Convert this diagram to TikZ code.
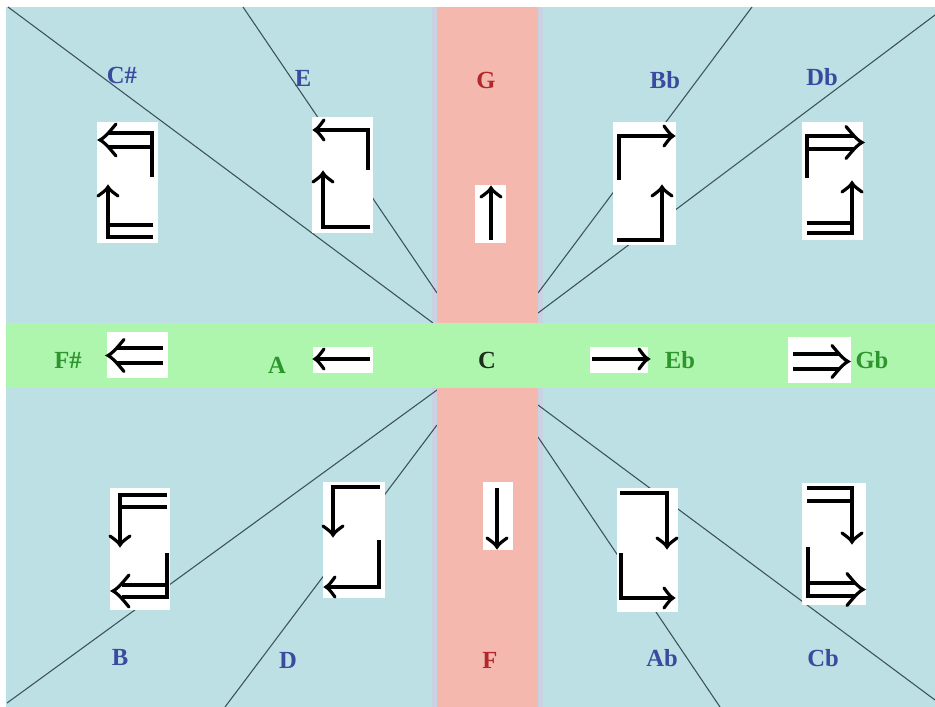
\documentclass[tikz,border=0pt]{standalone}
\usepackage{fontspec}
\setmainfont{Liberation Serif}
\usetikzlibrary{positioning}
\definecolor{bgblue}{HTML}{BCE0E3}
\definecolor{stripred}{HTML}{F4B8AF}
\definecolor{stripgreen}{HTML}{AEF5AE}
\definecolor{rimblue}{HTML}{C9D2E2}
\definecolor{keyblue}{HTML}{3A4A9E}
\definecolor{keygreen}{HTML}{2C962C}
\definecolor{keyred}{HTML}{B02828}
\definecolor{keydark}{HTML}{1E2E1E}
\definecolor{rayline}{HTML}{3C5058}

\begin{document}
\begin{tikzpicture}[x=0.2mm, y=-0.2mm,
    ray/.style={draw=rayline, line width=0.6pt},
    card/.style={fill=white},
    glyph/.style={draw=black, line width=1.8pt, line join=miter},
    key/.style={font=\bfseries\fontsize{14}{16}\selectfont, inner sep=0pt},
    barb/.pic={\draw[glyph, line cap=round] (-9,-10) .. controls (-6,-6) and (-3,-1.5) .. (0,0) .. controls (-3,1.5) and (-6,6) .. (-9,10);},
    bigbarb/.pic={\draw[glyph, line cap=round] (-16,-16) .. controls (-11,-10) and (-5,-2.5) .. (0,0) .. controls (-5,2.5) and (-11,10) .. (-16,16);}]
  \useasboundingbox (0,0) rectangle (935,707);
  \fill[white] (0,0) rectangle (935,707);
  \fill[bgblue] (6,7) rectangle (935,707);
  \fill[rimblue] (432,7) rectangle (543,707);
  % rays
  \draw[ray] (8,7) -- (433,323);
  \draw[ray] (243,7) -- (437,293);
  \draw[ray] (752,7) -- (538,293);
  \draw[ray] (935,15) -- (538,313);
  \draw[ray] (7,703) -- (437,390);
  \draw[ray] (225,707) -- (437,425);
  \draw[ray] (720,707) -- (538,437);
  \draw[ray] (935,700) -- (538,405);
  % strips
  \fill[stripred] (437,7) rectangle (538,707);
  \fill[stripgreen] (6,323) rectangle (935,388);
  % cards
  \fill[card] (97,122) rectangle (158,243);
  \fill[card] (312,117) rectangle (373,233);
  \fill[card] (475,185) rectangle (506,243);
  \fill[card] (613,122) rectangle (676,245);
  \fill[card] (802,122) rectangle (863,240);
  \fill[card] (107,332) rectangle (168,378);
  \fill[card] (313,347) rectangle (373,373);
  \fill[card] (590,347) rectangle (648,373);
  \fill[card] (788,337) rectangle (851,383);
  \fill[card] (110,488) rectangle (170,610);
  \fill[card] (323,482) rectangle (385,598);
  \fill[card] (483,482) rectangle (513,550);
  \fill[card] (617,488) rectangle (678,612);
  \fill[card] (802,483) rectangle (866,605);
  % top row
  \draw[glyph] (152,177) -- (152,133) -- (109,133);
  \draw[glyph] (152,147) -- (109,147);
  \pic[rotate=180] at (100,140) {bigbarb};
  \draw[glyph] (153,225) -- (108,225);
  \draw[glyph] (153,237) -- (108,237) -- (108,188);
  \pic[rotate=90] at (108,187) {barb};
  \draw[glyph] (368,170) -- (368,130) -- (316,130);
  \pic[rotate=180] at (315,130) {barb};
  \draw[glyph] (370,227) -- (323,227) -- (323,174);
  \pic[rotate=90] at (323,173) {barb};
  \draw[glyph] (491,240) -- (491,189);
  \pic[rotate=90] at (491,188) {barb};
  \draw[glyph] (619,180) -- (619,136) -- (672,136);
  \pic at (673,136) {barb};
  \draw[glyph] (617,240) -- (662,240) -- (662,188);
  \pic[rotate=90] at (662,187) {barb};
  \draw[glyph] (807,178) -- (807,136) -- (854,136);
  \draw[glyph] (807,149) -- (854,149);
  \pic at (862,142.5) {bigbarb};
  \draw[glyph] (807,223) -- (852,223);
  \draw[glyph] (807,233) -- (852,233) -- (852,184);
  \pic[rotate=90] at (852,183) {barb};
  % middle row
  \draw[glyph] (163,348) -- (117,348);
  \draw[glyph] (163,363) -- (117,363);
  \pic[rotate=180] at (108,355.5) {bigbarb};
  \draw[glyph] (370,359) -- (316,359);
  \pic[rotate=180] at (315,359) {barb};
  \draw[glyph] (592,359) -- (647,359);
  \pic at (648,359) {barb};
  \draw[glyph] (793,354) -- (840,354);
  \draw[glyph] (793,369) -- (840,369);
  \pic at (848,361.5) {bigbarb};
  % bottom row
  \draw[glyph] (167,495) -- (120,495) -- (120,544);
  \draw[glyph] (167,507) -- (120,507);
  \pic[rotate=270] at (120,545) {barb};
  \draw[glyph] (167,553) -- (167,597) -- (122,597);
  \draw[glyph] (167,585) -- (122,585);
  \pic[rotate=180] at (113,591) {bigbarb};
  \draw[glyph] (380,487) -- (333,487) -- (333,534);
  \pic[rotate=270] at (333,535) {barb};
  \draw[glyph] (379,540) -- (379,587) -- (327,587);
  \pic[rotate=180] at (326,587) {barb};
  \draw[glyph] (497,488) -- (497,546);
  \pic[rotate=270] at (497,547) {barb};
  \draw[glyph] (620,493) -- (667,493) -- (667,546);
  \pic[rotate=270] at (667,547) {barb};
  \draw[glyph] (621,553) -- (621,598) -- (672,598);
  \pic at (673,598) {barb};
  \draw[glyph] (807,488) -- (852,488) -- (852,541);
  \draw[glyph] (807,501) -- (852,501);
  \pic[rotate=270] at (852,542) {barb};
  \draw[glyph] (808,547) -- (808,596) -- (855,596);
  \draw[glyph] (808,583) -- (855,583);
  \pic at (863,589.5) {bigbarb};
  % keys
  \node[key, text=keyblue] (kcs) at (122,75) {C\#};
  \node[key, text=keyblue] (ke) at (303,78) {E};
  \node[key, text=keyred] (kg) at (486,80) {G};
  \node[key, text=keyblue] (kbb) at (665,80) {Bb};
  \node[key, text=keyblue] (kdb) at (822,77) {Db};
  \node[key, text=keygreen] (kfs) at (68,360) {F\#};
  \node[key, text=keygreen] (ka) at (277,365) {A};
  \node[key, text=keydark] (kc) at (487,360) {C};
  \node[key, text=keygreen] (keb) at (680,360) {Eb};
  \node[key, text=keygreen] (kgb) at (872,360) {Gb};
  \node[key, text=keyblue] (kb) at (120,657) {B};
  \node[key, text=keyblue] (kd) at (288,660) {D};
  \node[key, text=keyred] (kf) at (490,660) {F};
  \node[key, text=keyblue] (kab) at (662,658) {Ab};
  \node[key, text=keyblue] (kcb) at (823,658) {Cb};
\end{tikzpicture}
\end{document}
